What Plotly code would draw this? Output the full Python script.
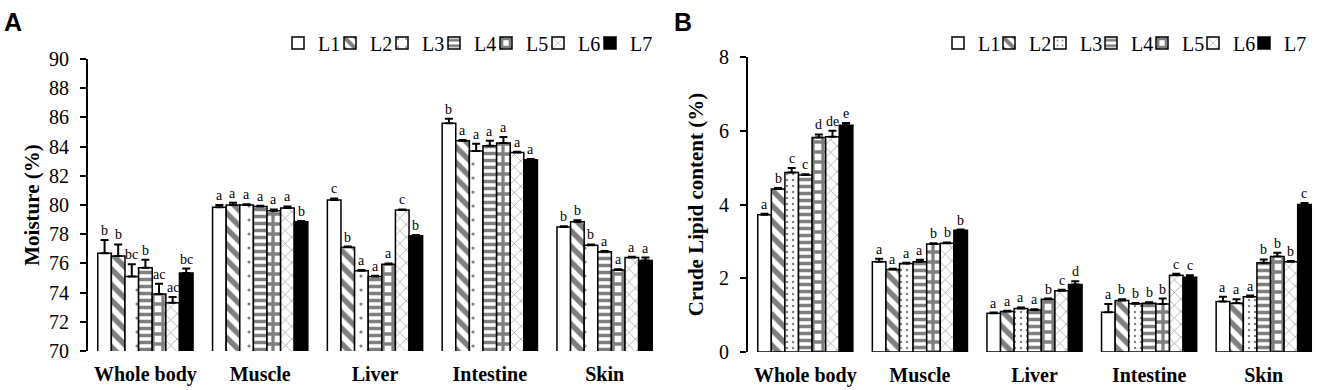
import plotly.graph_objects as go

categories = ["Whole body", "Muscle", "Liver", "Intestine", "Skin"]
series_names = ["L1", "L2", "L3", "L4", "L5", "L6", "L7"]

# Panel A: Moisture (%)
moist_L1 = [76.7, 79.85, 80.35, 85.6, 78.5]
moist_L2 = [76.5, 80.0, 77.1, 84.4, 78.85]
moist_L3 = [75.1, 80.0, 75.5, 83.7, 77.25]
moist_L4 = [75.7, 79.9, 75.1, 84.05, 76.8]
moist_L5 = [73.9, 79.6, 75.95, 84.25, 75.55]
moist_L6 = [73.3, 79.8, 79.65, 83.6, 76.4]
moist_L7 = [75.35, 78.85, 77.9, 83.1, 76.2]
moist_err_L1 = [0.9, 0.15, 0.1, 0.3, 0.05]
moist_err_L2 = [0.8, 0.15, 0.05, 0.05, 0.1]
moist_err_L3 = [0.85, 0.05, 0.05, 0.5, 0.05]
moist_err_L4 = [0.55, 0.05, 0.05, 0.35, 0.05]
moist_err_L5 = [0.7, 0.1, 0.05, 0.4, 0.05]
moist_err_L6 = [0.4, 0.1, 0.05, 0.05, 0.05]
moist_err_L7 = [0.3, 0.05, 0.05, 0.05, 0.2]
moist_sig_L1 = ["b", "a", "c", "b", "b"]
moist_sig_L2 = ["b", "a", "b", "a", "b"]
moist_sig_L3 = ["bc", "a", "a", "a", "b"]
moist_sig_L4 = ["b", "a", "a", "a", "a"]
moist_sig_L5 = ["ac", "a", "a", "a", "a"]
moist_sig_L6 = ["ac", "a", "c", "a", "a"]
moist_sig_L7 = ["bc", "b", "b", "a", "a"]

# Panel B: Crude lipid content (%)
lipid_L1 = [3.72, 2.45, 1.05, 1.08, 1.37]
lipid_L2 = [4.42, 2.24, 1.10, 1.40, 1.32]
lipid_L3 = [4.87, 2.40, 1.18, 1.31, 1.50]
lipid_L4 = [4.80, 2.45, 1.14, 1.32, 2.42]
lipid_L5 = [5.82, 2.93, 1.43, 1.30, 2.59]
lipid_L6 = [5.84, 2.95, 1.66, 2.08, 2.45]
lipid_L7 = [6.15, 3.30, 1.83, 2.03, 4.00]
lipid_err_L1 = [0.03, 0.08, 0.02, 0.22, 0.13]
lipid_err_L2 = [0.03, 0.02, 0.02, 0.03, 0.11]
lipid_err_L3 = [0.12, 0.02, 0.03, 0.02, 0.03]
lipid_err_L4 = [0.02, 0.05, 0.02, 0.03, 0.09]
lipid_err_L5 = [0.08, 0.02, 0.02, 0.15, 0.10]
lipid_err_L6 = [0.16, 0.02, 0.03, 0.04, 0.02]
lipid_err_L7 = [0.06, 0.02, 0.09, 0.05, 0.04]
lipid_sig_L1 = ["a", "a", "a", "a", "a"]
lipid_sig_L2 = ["b", "a", "a", "b", "a"]
lipid_sig_L3 = ["c", "a", "a", "b", "a"]
lipid_sig_L4 = ["c", "a", "a", "b", "b"]
lipid_sig_L5 = ["d", "b", "b", "b", "b"]
lipid_sig_L6 = ["de", "b", "c", "c", "b"]
lipid_sig_L7 = ["e", "b", "d", "c", "c"]

moist = [moist_L1, moist_L2, moist_L3, moist_L4, moist_L5, moist_L6, moist_L7]
moist_err = [moist_err_L1, moist_err_L2, moist_err_L3, moist_err_L4, moist_err_L5, moist_err_L6, moist_err_L7]
moist_sig = [moist_sig_L1, moist_sig_L2, moist_sig_L3, moist_sig_L4, moist_sig_L5, moist_sig_L6, moist_sig_L7]
lipid = [lipid_L1, lipid_L2, lipid_L3, lipid_L4, lipid_L5, lipid_L6, lipid_L7]
lipid_err = [lipid_err_L1, lipid_err_L2, lipid_err_L3, lipid_err_L4, lipid_err_L5, lipid_err_L6, lipid_err_L7]
lipid_sig = [lipid_sig_L1, lipid_sig_L2, lipid_sig_L3, lipid_sig_L4, lipid_sig_L5, lipid_sig_L6, lipid_sig_L7]

W, H = 1317, 390
SERIF = "Liberation Serif"
BARGAP = 0.17

def pattern(i, panel):
    if i == 0:
        return dict(shape="")
    if i == 1:
        return dict(shape="\\", fgcolor="black", bgcolor="white", size=11, solidity=0.5, fillmode="overlay")
    if i == 2:
        if panel == "A":
            return dict(shape=".", fgcolor="black", bgcolor="white", size=14, solidity=0.04, fillmode="overlay")
        return dict(shape=".", fgcolor="black", bgcolor="white", size=6, solidity=0.12, fillmode="overlay")
    if i == 3:
        return dict(shape="-", fgcolor="black", bgcolor="white", size=7, solidity=0.5, fillmode="overlay")
    if i == 4:
        return dict(shape="+", fgcolor="black", bgcolor="white", size=10, solidity=0.55, fillmode="overlay")
    if i == 5:
        return dict(shape="x", fgcolor="black", bgcolor="white", size=9, solidity=0.12, fillmode="overlay")
    return dict(shape="")

fig = go.Figure()

# one legend per entry so entries can sit as compactly as in the original
legend_layouts = {}
legend_font = dict(family=SERIF, size=20, color="black")
sym_start = {"A": 298, "B": 958}
sym_step = {"A": 52, "B": 51}
k = 0
for panel, data, errs, xa, ya in [("A", moist, moist_err, "x", "y"),
                                   ("B", lipid, lipid_err, "x2", "y2")]:
    for i, name in enumerate(series_names):
        k += 1
        leg_id = "legend" if k == 1 else f"legend{k}"
        legend_layouts[leg_id] = dict(
            orientation="h", xanchor="left", yanchor="middle",
            x=(sym_start[panel] + sym_step[panel] * i - 20) / W, y=1 - 43 / H,
            font=legend_font, itemwidth=30, bgcolor="rgba(0,0,0,0)",
        )
        fig.add_trace(go.Bar(
            x=categories, y=data[i], name=name,
            xaxis=xa, yaxis=ya, legend=leg_id,
            marker=dict(color="black" if i == 6 else "white",
                        line=dict(color="black", width=1.5),
                        pattern=pattern(i, panel)),
            error_y=dict(type="data", array=errs[i], arrayminus=[0] * len(errs[i]),
                         symmetric=False, color="black", thickness=2, width=4),
            offsetgroup=f"{panel}{i}",
        ))

# significance letters above each bar's error bar
annotations = []
bw = (1 - BARGAP) / 7
for xa, ya, data, errs, sigs in [("x", "y", moist, moist_err, moist_sig),
                                  ("x2", "y2", lipid, lipid_err, lipid_sig)]:
    for i in range(7):
        for j in range(len(categories)):
            annotations.append(dict(
                x=j - (1 - BARGAP) / 2 + (i + 0.5) * bw,
                y=data[i][j] + errs[i][j],
                xref=xa, yref=ya, text=sigs[i][j], showarrow=False,
                yanchor="bottom",
                font=dict(family=SERIF, size=14, color="black"),
            ))

annotations.append(dict(x=2 / W, y=1 - 22 / H, xref="paper", yref="paper", text="<b>A</b>",
                        showarrow=False, xanchor="left", yanchor="middle",
                        font=dict(family="Liberation Sans", size=25, color="black")))
annotations.append(dict(x=672 / W, y=1 - 22 / H, xref="paper", yref="paper", text="<b>B</b>",
                        showarrow=False, xanchor="left", yanchor="middle",
                        font=dict(family="Liberation Sans", size=25, color="black")))

yax_common = dict(showline=True, linecolor="black", linewidth=2, ticks="outside", ticklen=6,
                  tickwidth=2, tickcolor="black", showgrid=False, zeroline=False,
                  tickfont=dict(family=SERIF, size=20, color="black"), automargin=False,
                  ticklabelstandoff=7)
xax_common = dict(showline=False, showgrid=False, zeroline=False, ticks="",
                  tickfont=dict(family=SERIF, size=20, color="black"), automargin=False,
                  ticklabelstandoff=9)

fig.update_layout(
    width=W, height=H,
    margin=dict(l=0, r=0, t=0, b=0),
    paper_bgcolor="white", plot_bgcolor="white",
    barmode="group", bargap=BARGAP, bargroupgap=0,
    font=dict(family=SERIF, color="black"),
    xaxis=dict(domain=[88 / W, 662 / W], range=[-0.5, 4.5],
               tickvals=categories, ticktext=[f"<b>{c}</b>" for c in categories], **xax_common),
    xaxis2=dict(domain=[748 / W, 1.0], range=[-0.5, 4.465], anchor="y2",
                tickvals=categories, ticktext=[f"<b>{c}</b>" for c in categories], **xax_common),
    yaxis=dict(domain=[(H - 351) / H, (H - 59) / H], range=[70, 90], dtick=2,
               title=dict(text="<b>Moisture (%)</b>", font=dict(family=SERIF, size=21, color="black"), standoff=4),
               **yax_common),
    yaxis2=dict(domain=[(H - 352) / H, (H - 57) / H], range=[0, 8], dtick=2, anchor="x2",
                title=dict(text="<b>Crude Lipid content (%)</b>", font=dict(family=SERIF, size=21, color="black"), standoff=10),
                **yax_common),
    annotations=annotations,
    showlegend=True,
    **legend_layouts,
)

fig.write_html("out.html", config={"displayModeBar": False},
               post_script="document.body.style.margin='0px';document.body.style.overflow='hidden';")
